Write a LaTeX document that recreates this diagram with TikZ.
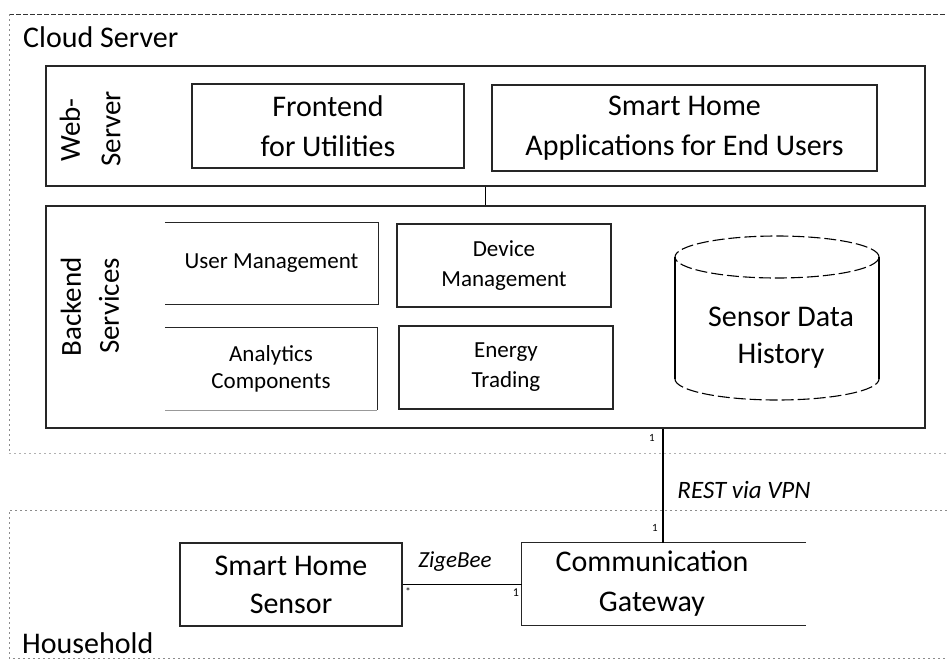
\documentclass[tikz,border=0pt]{standalone}
\usepackage{fontspec}
\setmainfont{Carlito}
\newcommand\fsz[2]{\fontsize{#1}{#2}\selectfont}
\begin{document}
\begin{tikzpicture}[x=1pt,y=-1pt,
  box/.style={draw=black!85, line width=1.3pt, inner sep=0pt, align=center},
  openbox/.style={inner sep=0pt, align=center},
  lbl/.style={inner sep=0pt},
  side/.style={draw=black!85, line width=1.2pt},
  region/.style={draw=black!45, line width=0.8pt, dash pattern=on 2pt off 3pt},
  conn/.style={draw=black, line width=1.3pt},
]
\useasboundingbox (0,0) rectangle (947,662);

% ---- deployment regions
\draw[black!80, line width=1pt, dash pattern=on 5pt off 2pt] (9,14) -- (947,14);
\draw[region] (9,14) -- (9,453);
\draw[region, draw=black!30] (9,453) -- (947,453);
\draw[region] (947,510) -- (9,510) -- (9,658) -- (947,658);
\node[lbl, anchor=base west, font=\fsz{30}{36}] (cloudlbl) at (23,47) {Cloud Server};
\node[lbl, anchor=base west, font=\fsz{30}{36}] (houselbl) at (22,653) {Household};

% ---- web server layer
\node[box, line width=1.2pt, minimum width=879pt, minimum height=120pt] (web) at (485.5,126) {};
\node[lbl, rotate=90, font=\fsz{29}{34}] (webA) at (70,130) {Web-};
\node[lbl, rotate=90, font=\fsz{29}{34}] (webB) at (111,129) {Server};
\node[box, line width=1.1pt, minimum width=272pt, minimum height=84pt, font=\fsz{30}{40}] (front) at (328,126) {Frontend\\for Utilities};
\node[box, line width=1.5pt, minimum width=385pt, minimum height=86pt, font=\fsz{30}{40}] (apps) at (684.5,128) {Smart Home\\Applications for End Users};

% ---- backend layer
\node[box, line width=1.6pt, minimum width=879pt, minimum height=222pt] (backend) at (485.5,317) {};
\node[lbl, rotate=90, font=\fsz{29}{34}] (beA) at (71,307) {Backend};
\node[lbl, rotate=90, font=\fsz{29}{34}] (beB) at (109,306) {Services};

\node[openbox, minimum width=213pt, minimum height=81pt, font=\fsz{23}{29}] (user) at (271.5,263.5) {User Management};
\draw[side] (user.north west) -- (user.north east) -- (user.south east) -- (user.south west);
\node[box, line width=1.2pt, minimum width=214pt, minimum height=83pt, font=\fsz{23}{30}] (device) at (504,265.5) {Device\\Management};
\node[openbox, minimum width=212pt, minimum height=82pt, font=\fsz{23}{27}] (analytics) at (271,369) {Analytics\\Components};
\draw[side] (analytics.north west) -- (analytics.north east) -- (analytics.south east);
\draw[side, draw=black!40] (analytics.south east) -- (analytics.south west);
\node[box, line width=1.5pt, minimum width=214pt, minimum height=83pt, font=\fsz{23}{30}] (energy) at (506,367.5) {Energy\\Trading};

% sensor data store (cylinder)
\draw[line width=1.1pt, dash pattern=on 12pt off 4pt] (777,257) ellipse [x radius=102pt, y radius=21pt];
\draw[line width=1.1pt] (675,257) -- (675,379);
\draw[line width=1.1pt] (879,257) -- (879,379);
\draw[line width=1.1pt, dash pattern=on 12pt off 4pt] (675,379) arc[start angle=180, end angle=360, x radius=102pt, y radius=21pt];
\node[openbox, font=\fsz{30}{37}] (history) at (781,338) {Sensor Data\\History};

% ---- household devices
\node[box, line width=1.3pt, minimum width=222pt, minimum height=83pt, font=\fsz{30}{38}] (sensor) at (291,584.5) {Smart Home\\Sensor};
\node[openbox, minimum width=260pt, minimum height=82pt, font=\fsz{30}{40}] (gw) at (652,584) {Communication\\Gateway};
\draw[side, line width=1.3pt] ([xshift=24pt]gw.north east) -- (gw.north west) -- (gw.south west) -- ([xshift=24pt]gw.south east);

% ---- connectors
\draw[conn] (web.south) -- (backend.north);
\coordinate (vpn) at (663,0);
\draw[conn] (vpn |- backend.south) -- (vpn |- gw.north);
\draw[conn, line width=1.2pt] (sensor.east) -- (sensor.east -| gw.west);

% multiplicities and protocol labels
\node[lbl, font=\fsz{11}{12}] (m1) at (652,438) {1};
\node[lbl, font=\fsz{11}{12}] (m2) at (655,528) {1};
\node[lbl, font=\fsz{11}{12}] (m3) at (408,592) {*};
\node[lbl, font=\fsz{12}{12}] (m4) at (516,593) {1};
\node[lbl, font=\itshape\fsz{25}{30}] (rest) at (744,490) {REST via VPN};
\node[lbl, font=\itshape\fsz{23}{28}] (zig) at (455,562) {ZigeBee};
\end{tikzpicture}
\end{document}
